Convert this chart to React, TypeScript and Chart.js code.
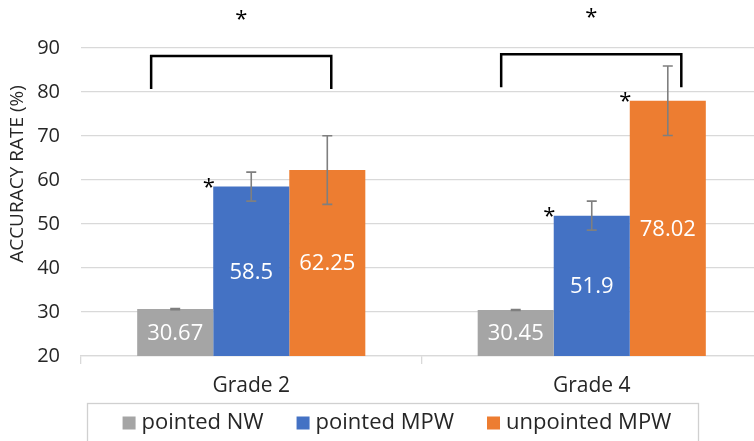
import React, { useEffect, useRef } from "react";
import { Chart, registerables } from "chart.js";

Chart.register(...registerables);

// ---------- data ----------
const categories = ["Grade 2", "Grade 4"];
const seriesNames = ["pointed NW", "pointed MPW", "unpointed MPW"];
const pointedNW = [30.67, 30.45];
const pointedMPW = [58.5, 51.9];
const unpointedMPW = [62.25, 78.02];
const errPointedNW = [0.12, 0.12];
const errPointedMPW = [3.3, 3.3];
const errUnpointedMPW = [7.8, 7.9];
const yMin = 20;
const yMax = 90;
const yStep = 10;
const yTitle = "ACCURACY RATE (%)";
// significance stars placed on bars: [category index, dataset index]
const barStars: [number, number][] = [
  [0, 1],
  [1, 1],
  [1, 2],
];
// brackets: category index, left/right edge as fraction of category width from its centre, y values
const bracketCats = [0, 1];
const bracketFrom = [-0.294, -0.266];
const bracketTo = [0.235, 0.263];
const bracketTop = [88.2, 88.6];
const bracketBottom = [80.7, 81.1];
const bracketStarY = [97.5, 97.9];

const colors = ["#A5A5A5", "#4472C4", "#ED7D31"];
const FONT = "'Open Sans', 'DejaVu Sans', sans-serif";
const TEXT = "#262626";

const allValues = [pointedNW, pointedMPW, unpointedMPW];
const allErrors = [errPointedNW, errPointedMPW, errUnpointedMPW];

function drawStar(ctx: CanvasRenderingContext2D, x: number, y: number) {
  ctx.save();
  ctx.font = `22px ${FONT}`;
  ctx.fillStyle = "#000";
  ctx.textAlign = "center";
  ctx.textBaseline = "alphabetic";
  const m = ctx.measureText("*");
  const asc = m.actualBoundingBoxAscent;
  const desc = m.actualBoundingBoxDescent;
  ctx.fillText("*", x, y + (asc - desc) / 2);
  ctx.restore();
}

const overlayPlugin = {
  id: "overlay",
  afterDatasetsDraw(chart: any) {
    const ctx: CanvasRenderingContext2D = chart.ctx;
    const yScale = chart.scales.y;
    const bottom = chart.chartArea.bottom;
    // data labels
    allValues.forEach((vals, di) => {
      const meta = chart.getDatasetMeta(di);
      meta.data.forEach((bar: any, ci: number) => {
        const base = Math.min(bar.base, bottom);
        ctx.save();
        ctx.font = `22px ${FONT}`;
        ctx.fillStyle = "#FFFFFF";
        ctx.textAlign = "center";
        ctx.textBaseline = "middle";
        ctx.fillText(String(vals[ci]), bar.x, (bar.y + base) / 2 + 1);
        ctx.restore();
      });
    });
    // error bars
    allErrors.forEach((errs, di) => {
      const meta = chart.getDatasetMeta(di);
      meta.data.forEach((bar: any, ci: number) => {
        const v = allValues[di][ci];
        const e = errs[ci];
        const yt = yScale.getPixelForValue(v + e);
        const yb = yScale.getPixelForValue(v - e);
        ctx.save();
        ctx.strokeStyle = "#7F7F7F";
        ctx.lineWidth = 1.6;
        ctx.beginPath();
        ctx.moveTo(bar.x, yt);
        ctx.lineTo(bar.x, yb);
        ctx.moveTo(bar.x - 5, yt);
        ctx.lineTo(bar.x + 5, yt);
        ctx.moveTo(bar.x - 5, yb);
        ctx.lineTo(bar.x + 5, yb);
        ctx.stroke();
        ctx.restore();
      });
    });
  },
  afterDraw(chart: any) {
    const ctx: CanvasRenderingContext2D = chart.ctx;
    const xScale = chart.scales.x;
    const yScale = chart.scales.y;
    const catW = xScale.width / categories.length;
    // stars on bars
    barStars.forEach(([ci, di]) => {
      const bar: any = chart.getDatasetMeta(di).data[ci];
      const left = bar.x - bar.width / 2;
      drawStar(ctx, left - 4.5, bar.y - 4);
    });
    // brackets
    bracketCats.forEach((ci, i) => {
      const cx = xScale.getPixelForValue(ci);
      const x1 = cx + bracketFrom[i] * catW;
      const x2 = cx + bracketTo[i] * catW;
      const yt = yScale.getPixelForValue(bracketTop[i]);
      const yb = yScale.getPixelForValue(bracketBottom[i]);
      ctx.save();
      ctx.strokeStyle = "#000";
      ctx.lineWidth = 2.5;
      ctx.lineJoin = "miter";
      ctx.beginPath();
      ctx.moveTo(x1, yb);
      ctx.lineTo(x1, yt);
      ctx.lineTo(x2, yt);
      ctx.lineTo(x2, yb);
      ctx.stroke();
      ctx.restore();
      drawStar(ctx, (x1 + x2) / 2, yScale.getPixelForValue(bracketStarY[i]));
    });
    // y axis title
    ctx.save();
    ctx.font = `19px ${FONT}`;
    ctx.fillStyle = TEXT;
    ctx.textAlign = "center";
    ctx.textBaseline = "middle";
    ctx.translate(18, 174);
    ctx.rotate(-Math.PI / 2);
    ctx.fillText(yTitle, 0, 0);
    ctx.restore();
    // legend
    ctx.save();
    ctx.font = `22px ${FONT}`;
    const box = 13;
    const gapBoxText = 6;
    const gapItems = 33;
    const widths = seriesNames.map((n) => ctx.measureText(n).width);
    const total =
      widths.reduce((a, b) => a + b, 0) + seriesNames.length * (box + gapBoxText) + gapItems * (seriesNames.length - 1);
    const center = 397;
    let x = center - total / 2;
    const textY = 423;
    seriesNames.forEach((n, i) => {
      ctx.fillStyle = colors[i];
      ctx.fillRect(x, textY - 6.5, box, box);
      x += box + gapBoxText;
      ctx.fillStyle = TEXT;
      ctx.textAlign = "left";
      ctx.textBaseline = "middle";
      ctx.fillText(n, x, textY);
      x += widths[i] + gapItems;
    });
    ctx.strokeStyle = "#D0D0D0";
    ctx.lineWidth = 1.3;
    ctx.strokeRect(87.5, 403.5, 611, 50);
    ctx.restore();
  },
};

export default function App() {
  const ref = useRef<HTMLCanvasElement | null>(null);
  useEffect(() => {
    document.body.style.margin = "0";
    document.body.style.overflow = "hidden";
    if (!ref.current) return;
    const chart = new Chart(ref.current, {
      type: "bar",
      data: {
        labels: categories,
        datasets: seriesNames.map((name, i) => ({
          label: name,
          data: allValues[i],
          backgroundColor: colors[i],
          borderWidth: 0,
          categoryPercentage: 0.67,
          barPercentage: 1.0,
        })),
      },
      options: {
        animation: false,
        responsive: true,
        maintainAspectRatio: false,
        layout: { padding: { top: 48, left: 0, right: 0, bottom: 0 } },
        plugins: {
          legend: { display: false },
          tooltip: { enabled: false },
          title: { display: false },
        },
        scales: {
          x: {
            grid: {
              offset: true,
              drawOnChartArea: false,
              drawTicks: true,
              tickLength: 8,
              color: "#D9D9D9",
              lineWidth: 1.3,
            },
            border: { display: true, color: "#D9D9D9", width: 1.3 },
            ticks: {
              color: TEXT,
              font: { family: FONT, size: 21 },
              padding: 9,
            },
            afterFit: (s: any) => {
              s.height = 85;
            },
          },
          y: {
            min: yMin,
            max: yMax,
            ticks: {
              stepSize: yStep,
              color: TEXT,
              font: { family: FONT, size: 20 },
              padding: 21,
            },
            grid: { color: "#D9D9D9", lineWidth: 1.3, drawTicks: false },
            border: { display: false },
            afterFit: (s: any) => {
              s.width = 81;
            },
          },
        },
      },
      plugins: [overlayPlugin],
    });
    document.fonts?.ready?.then(() => chart.update());
    return () => chart.destroy();
  }, []);
  return (
    <div style={{ width: 762, height: 441, position: "relative" }}>
      <canvas ref={ref} />
    </div>
  );
}
